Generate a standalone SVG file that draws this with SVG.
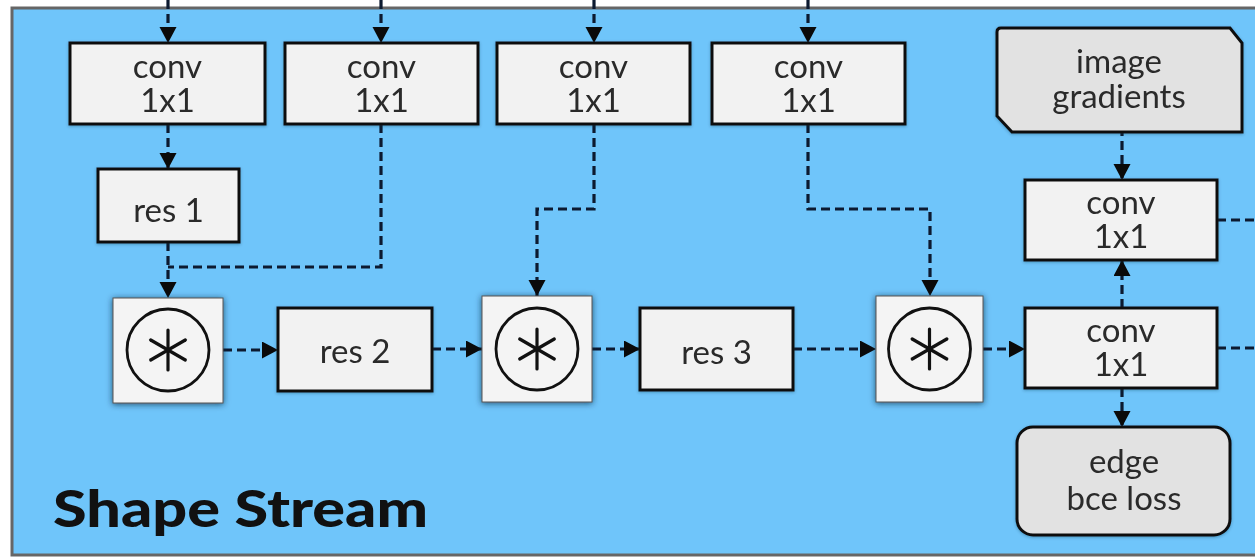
<svg xmlns="http://www.w3.org/2000/svg" width="1255" height="559" viewBox="0 0 1255 559">
  <style>
    .box { fill: #f2f2f2; stroke: #111; stroke-width: 3; }
    .gray { fill: #e2e2e2; stroke: #111; stroke-width: 3; }
    .op { fill: #f4f4f4; stroke: #555; stroke-width: 1; }
    .ring { fill: none; stroke: #111; stroke-width: 2.8; }
    .star { stroke: #111; stroke-width: 3.2; stroke-linecap: round; }
    .lbl { font-family: Lato, "Noto Sans", "Liberation Sans", sans-serif; font-size: 33px; fill: #2b2b2b; text-anchor: middle; }
    .title { font-family: Lato, "Noto Sans", "Liberation Sans", sans-serif; font-size: 51px; font-weight: 900; fill: #111; }
    .flow { fill: none; stroke: #0c1a30; stroke-width: 3.2; stroke-dasharray: 9 5; }
  </style>
  <defs>
    <marker id="arrow" markerUnits="userSpaceOnUse" markerWidth="18" markerHeight="18" refX="16" refY="8.5" orient="auto">
      <path d="M0,0 L16,8.5 L0,17 Z" fill="#0a0a0a"/>
    </marker>
    <filter id="shadow" x="-20%" y="-20%" width="140%" height="140%">
      <feDropShadow dx="0" dy="1" stdDeviation="3" flood-color="#0d2a42" flood-opacity="0.75"/>
    </filter>
    <filter id="soft" x="-10%" y="-10%" width="120%" height="130%">
      <feDropShadow dx="0" dy="1" stdDeviation="1.5" flood-color="#10304a" flood-opacity="0.35"/>
    </filter>
    <g id="mul">
      <circle r="41" class="ring"/>
      <line x1="0" y1="-20" x2="0" y2="20" class="star"/>
      <line x1="-17.3" y1="-10" x2="17.3" y2="10" class="star"/>
      <line x1="-17.3" y1="10" x2="17.3" y2="-10" class="star"/>
    </g>
  </defs>

  <!-- page and panel -->
  <rect width="1255" height="559" fill="#ffffff"/>
  <rect x="12" y="8" width="1260" height="547" fill="#6fc5fa" stroke="#666" stroke-width="3"/>

  <!-- connectors -->
  <g id="connectors">
    <path class="flow" d="M168,0 V43" marker-end="url(#arrow)"/>
    <path class="flow" d="M381,0 V43" marker-end="url(#arrow)"/>
    <path class="flow" d="M594,0 V43" marker-end="url(#arrow)"/>
    <path class="flow" d="M808,0 V43" marker-end="url(#arrow)"/>
    <path class="flow" d="M168,124 V169" marker-end="url(#arrow)"/>
    <path class="flow" d="M168,242 V298" marker-end="url(#arrow)"/>
    <path class="flow" d="M381,124 V267 H168"/>
    <path class="flow" d="M594,124 V209 H537 V296" marker-end="url(#arrow)"/>
    <path class="flow" d="M808,124 V209 H930 V296" marker-end="url(#arrow)"/>
    <path class="flow" d="M223,350 H278" marker-end="url(#arrow)"/>
    <path class="flow" d="M432,349 H482" marker-end="url(#arrow)"/>
    <path class="flow" d="M592,349 H640" marker-end="url(#arrow)"/>
    <path class="flow" d="M793,349 H876" marker-end="url(#arrow)"/>
    <path class="flow" d="M983,349 H1025" marker-end="url(#arrow)"/>
    <path class="flow" d="M1122,113 V180" marker-end="url(#arrow)"/>
    <path class="flow" d="M1122,308 V260" marker-end="url(#arrow)"/>
    <path class="flow" d="M1122,388 V427" marker-end="url(#arrow)"/>
    <path class="flow" d="M1217,220 H1255"/>
    <path class="flow" d="M1217,348 H1255"/>
  </g>

  <!-- top row of 1x1 convolutions -->
  <g id="conv-a" filter="url(#soft)">
    <rect class="box" x="70" y="43" width="195" height="81"/>
    <text class="lbl" x="167.5" y="78">conv</text>
    <text class="lbl" x="167.5" y="112">1x1</text>
  </g>
  <g id="conv-b" filter="url(#soft)">
    <rect class="box" x="285" y="43" width="193" height="81"/>
    <text class="lbl" x="381.5" y="78">conv</text>
    <text class="lbl" x="381.5" y="112">1x1</text>
  </g>
  <g id="conv-c" filter="url(#soft)">
    <rect class="box" x="497" y="43" width="193" height="81"/>
    <text class="lbl" x="593.5" y="78">conv</text>
    <text class="lbl" x="593.5" y="112">1x1</text>
  </g>
  <g id="conv-d" filter="url(#soft)">
    <rect class="box" x="712" y="43" width="193" height="81"/>
    <text class="lbl" x="808.5" y="78">conv</text>
    <text class="lbl" x="808.5" y="112">1x1</text>
  </g>

  <!-- residual blocks -->
  <g id="res1" filter="url(#soft)">
    <rect class="box" x="98" y="169" width="141" height="73"/>
    <text class="lbl" x="168.5" y="222">res 1</text>
  </g>
  <g id="res2" filter="url(#soft)">
    <rect class="box" x="278" y="308" width="154" height="83"/>
    <text class="lbl" x="355" y="363">res 2</text>
  </g>
  <g id="res3" filter="url(#soft)">
    <rect class="box" x="640" y="308" width="153" height="82"/>
    <text class="lbl" x="716.5" y="364">res 3</text>
  </g>

  <!-- gated multiplications -->
  <g id="mul1">
    <rect class="op" x="113" y="298" width="110" height="105" filter="url(#shadow)"/>
    <use href="#mul" x="168" y="350"/>
  </g>
  <g id="mul2">
    <rect class="op" x="482" y="296" width="110" height="106" filter="url(#shadow)"/>
    <use href="#mul" x="537" y="349"/>
  </g>
  <g id="mul3">
    <rect class="op" x="876" y="296" width="107" height="106" filter="url(#shadow)"/>
    <use href="#mul" x="929.5" y="349"/>
  </g>

  <!-- right column -->
  <g id="image-gradients" filter="url(#soft)">
    <path class="gray" d="M1001,28 H1230 L1242,43 V132 H1012 L997,116 V32 Q997,28 1001,28 Z"/>
    <text class="lbl" x="1119" y="73">image</text>
    <text class="lbl" x="1119" y="108">gradients</text>
  </g>
  <g id="conv-top" filter="url(#soft)">
    <rect class="box" x="1025" y="180" width="192" height="80"/>
    <text class="lbl" x="1121" y="214">conv</text>
    <text class="lbl" x="1121" y="248">1x1</text>
  </g>
  <g id="conv-bottom" filter="url(#soft)">
    <rect class="box" x="1025" y="308" width="192" height="80"/>
    <text class="lbl" x="1121" y="342">conv</text>
    <text class="lbl" x="1121" y="376">1x1</text>
  </g>
  <g id="edge-loss" filter="url(#soft)">
    <rect class="gray" x="1017" y="427" width="213" height="108" rx="16"/>
    <text class="lbl" x="1124" y="473">edge</text>
    <text class="lbl" x="1124" y="510">bce loss</text>
  </g>

  <text class="title" x="53" y="527" textLength="375" lengthAdjust="spacingAndGlyphs">Shape Stream</text>
</svg>
